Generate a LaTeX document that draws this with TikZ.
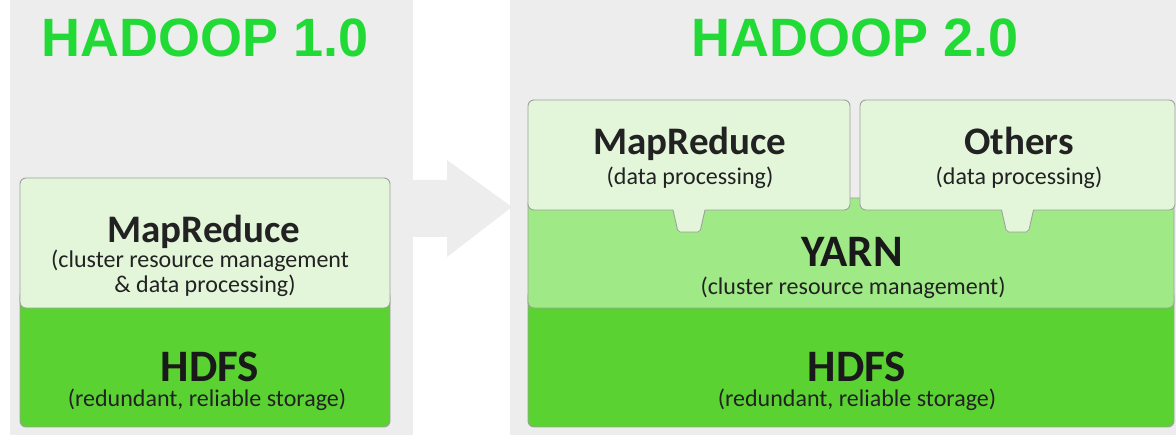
\documentclass[tikz,border=0pt]{standalone}
\usepackage{fontspec}
\setmainfont{Carlito}
\newfontfamily\headfont{Liberation Sans}
\usetikzlibrary{positioning}

\definecolor{panelgray}{HTML}{EDEDED}
\definecolor{headgreen}{HTML}{22DA35}
\definecolor{palegreen}{HTML}{E3F6DA}
\definecolor{midgreen}{HTML}{9FE987}
\definecolor{hdfsgreen}{HTML}{5AD232}
\definecolor{edgegray}{HTML}{A0A0A0}
\definecolor{inkgray}{HTML}{222222}

\tikzset{
  panel/.style={fill=panelgray, draw=none, inner sep=0pt, outer sep=0pt, anchor=north west},
  layer/.style={draw=edgegray, line width=0.9pt, rounded corners=6pt,
    inner sep=0pt, outer sep=0pt, anchor=north west},
  upper/.style={layer, fill=palegreen},
  yarnbox/.style={layer, fill=midgreen},
  store/.style={layer, fill=hdfsgreen},
  verhead/.style={font=\headfont\bfseries\fontsize{54}{54}\selectfont, text=headgreen,
    anchor=base, inner sep=0pt},
  boxname/.style={font=\bfseries\fontsize{39}{41}\selectfont, text=inkgray,
    anchor=base, inner sep=0pt},
  bigname/.style={boxname, font=\bfseries\fontsize{45}{47}\selectfont, text=black!90},
  boxnote/.style={font=\fontsize{24}{26}\selectfont, text=inkgray, anchor=base, inner sep=0pt},
}

\begin{document}
\begin{tikzpicture}[x=1pt,y=-1pt]
  \useasboundingbox (0,0) rectangle (1176,435);

  % the two version panels and the arrow between them
  \node[panel, minimum width=403pt, minimum height=440pt] (pan1) at (10,0) {};
  \node[panel, minimum width=666pt, minimum height=440pt] (pan2) at (510,0) {};
  \fill[panelgray] (412,180) -- (447,180) -- (447,160) -- (512,207)
    -- (447,257) -- (447,237) -- (412,237) -- cycle;

  \node[verhead] (ver1) at (205,57) {HADOOP 1.0};
  \node[verhead] (ver2) at (855,57) {HADOOP 2.0};

  % Hadoop 1.0 stack
  \node[store, minimum width=370pt, minimum height=137pt] (hdfs1) at (20,290) {};
  \node[upper, minimum width=370pt, minimum height=130pt] (mr1) at (20,178) {};

  \node[boxname] (mr1name) at (204,243) {MapReduce};
  \node[boxnote] (mr1note) at (200,268) {(cluster resource management};
  \node[boxnote] (mr1note2) at (205,293) {\& data processing)};
  \node[bigname] (hdfs1name) at (210,382) {HDFS};
  \node[boxnote] (hdfs1note) at (207,407) {(redundant, reliable storage)};

  % Hadoop 2.0 stack
  \node[store, minimum width=646pt, minimum height=137pt] (hdfs2) at (528,290) {};
  \node[yarnbox, minimum width=646pt, minimum height=110pt] (yarn) at (528,198) {};
  \node[upper, minimum width=322pt, minimum height=110pt] (mr2) at (528,100) {};
  \node[upper, minimum width=315pt, minimum height=110pt] (oth) at (860,100) {};

  % tabs hanging from the two engines into yarn
  \foreach \b in {mr2,oth} {
    \fill[palegreen] ([xshift=-16pt,yshift=1pt]\b.south) -- ([xshift=16pt,yshift=1pt]\b.south)
      -- ([xshift=11pt,yshift=-22pt]\b.south) -- ([xshift=-11pt,yshift=-22pt]\b.south) -- cycle;
    \draw[edgegray, line width=0.9pt, rounded corners=2pt] ([xshift=-16pt]\b.south)
      -- ([xshift=-11pt,yshift=-22pt]\b.south) -- ([xshift=11pt,yshift=-22pt]\b.south)
      -- ([xshift=16pt]\b.south);
  }

  \node[boxname] (mr2name) at (690,155) {MapReduce};
  \node[boxnote] (mr2note) at (690,185) {(data processing)};
  \node[boxname] (othname) at (1019,155) {Others};
  \node[boxnote] (othnote) at (1019,185) {(data processing)};
  \node[bigname] (yarnname) at (852,267) {YARN};
  \node[boxnote] (yarnnote) at (853,295) {(cluster resource management)};
  \node[bigname] (hdfs2name) at (857,382) {HDFS};
  \node[boxnote] (hdfs2note) at (857,407) {(redundant, reliable storage)};
\end{tikzpicture}
\end{document}
